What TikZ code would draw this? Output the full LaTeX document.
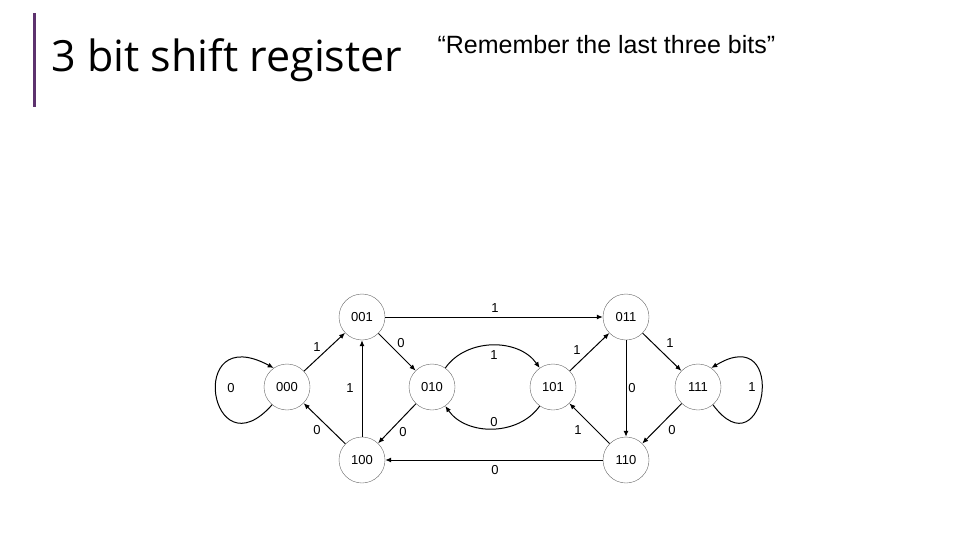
\documentclass[tikz,border=0pt]{standalone}
\usepackage{fontspec}
\setmainfont{Liberation Sans}
\newfontfamily\titlefont{Open Sans}
\usetikzlibrary{arrows.meta}
\begin{document}
\begin{tikzpicture}[x=1pt,y=-1pt,
  st/.style={circle,draw=black!60,line width=0.4pt,minimum size=46pt,inner sep=0pt,font=\fontsize{13}{13}\selectfont},
  lab/.style={font=\fontsize{13}{13}\selectfont},
  ed/.style={-{Latex[length=6pt,width=5pt]},line width=1pt}]
\useasboundingbox (0,0) rectangle (960,540);
\fill[fill={rgb,255:red,93;green,50;blue,110}] (33,13) rectangle (36,107);
\node[anchor=west,font=\titlefont\fontsize{43}{43}\selectfont] (t) at (48,60) {3 bit shift register};
\node[anchor=west,font=\fontsize{25}{25}\selectfont] (q) at (434,45) {“Remember the last three bits”};
\node[st] (a) at (287,387) {000};
\node[st] (b) at (362,317) {001};
\node[st] (c) at (432,387) {010};
\node[st] (d) at (553,387) {101};
\node[st] (e) at (626,317) {011};
\node[st] (f) at (698,387) {111};
\node[st] (g) at (362,460) {100};
\node[st] (h) at (626,460) {110};
\draw[ed] (a) -- (b);
\draw[ed] (b) -- (c);
\draw[ed] (g) -- (b);
\draw[ed] (c) -- (g);
\draw[ed] (g) -- (a);
\draw[ed] (b) -- (e);
\draw[ed] (c) to[out=55,in=125] (d);
\draw[ed] (d) to[out=-125,in=-55] (c);
\draw[ed] (d) -- (e);
\draw[ed] (e) -- (f);
\draw[ed] (e) -- (h);
\draw[ed] (f) -- (h);
\draw[ed] (h) -- (d);
\draw[ed] (h) -- (g);
\draw[ed] (a.230) .. controls (210,475) and (185,320) .. (a.125);
\draw[ed] (f.310) .. controls (765,475) and (790,320) .. (f.55);
\node[lab] (l1) at (495,308) {1};
\node[lab] (l2) at (401,343) {0};
\node[lab] (l3) at (317,347) {1};
\node[lab] (l4) at (350,388) {1};
\node[lab] (l5) at (317,430) {0};
\node[lab] (l6) at (403,432) {0};
\node[lab] (l7) at (494,355) {1};
\node[lab] (l8) at (494,422) {0};
\node[lab] (l9) at (577,350) {1};
\node[lab] (l10) at (670,343) {1};
\node[lab] (l11) at (632,388) {0};
\node[lab] (l12) at (578,430) {1};
\node[lab] (l13) at (672,430) {0};
\node[lab] (l14) at (495,470) {0};
\node[lab] (l15) at (231,388) {0};
\node[lab] (l16) at (752,387) {1};
\end{tikzpicture}
\end{document}
